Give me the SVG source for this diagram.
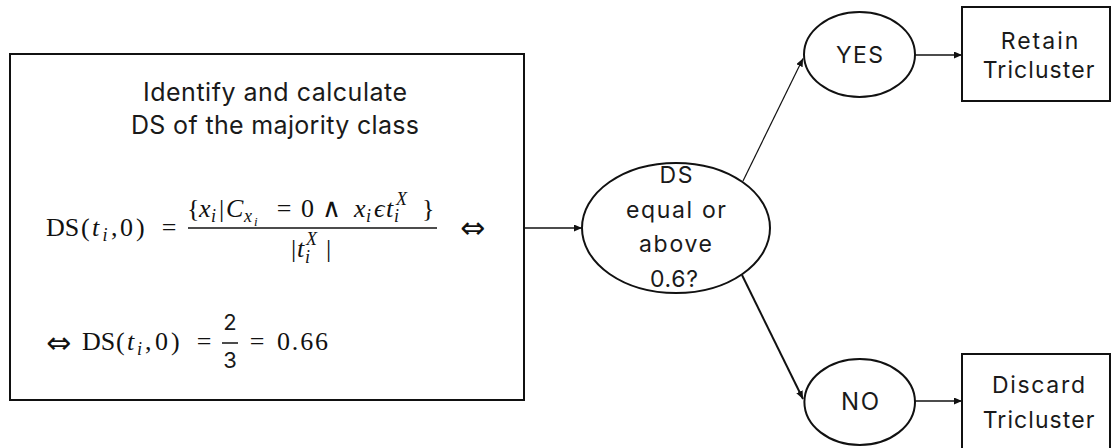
<svg xmlns="http://www.w3.org/2000/svg" width="1112" height="448" viewBox="0 0 1112 448">
<style>
.box{fill:#fff;stroke:#111;stroke-width:2}
.ell{fill:#fff;stroke:#111;stroke-width:2}
.t{font-family:Inter,"Open Sans","Liberation Sans",sans-serif;fill:#1a1a1a;text-anchor:middle}
.m{font-family:"Liberation Serif","DejaVu Serif",serif;font-size:26px;fill:#111}
.i{font-style:italic}
.s{font-size:18px}
.ss{font-size:13px}
.ar{font-family:"DejaVu Sans",sans-serif;font-size:30px;fill:#111}
.c{stroke:#111;fill:none}
</style>
<defs>
<marker id="ah" markerWidth="9" markerHeight="8" refX="8" refY="3.5" orient="auto" markerUnits="userSpaceOnUse">
<path d="M0,0 L8,3.5 L0,7 z" fill="#111"/>
</marker>
</defs>
<g id="connectors">
<line class="c" x1="524" y1="228" x2="582" y2="228" stroke-width="1.3" marker-end="url(#ah)"/>
<line class="c" x1="743" y1="181" x2="803" y2="58.5" stroke-width="1.2" marker-end="url(#ah)"/>
<line class="c" x1="742" y1="275" x2="803" y2="399" stroke-width="2" marker-end="url(#ah)"/>
<line class="c" x1="915" y1="55" x2="962" y2="55" stroke-width="1.5" marker-end="url(#ah)"/>
<line class="c" x1="915" y1="401" x2="962" y2="401" stroke-width="1.5" marker-end="url(#ah)"/>
</g>
<g id="calc-box">
<rect class="box" x="10" y="54" width="514" height="346"/>
<text class="t" x="275" y="100.5" font-size="25" textLength="264" lengthAdjust="spacing">Identify and calculate</text>
<text class="t" x="275" y="134" font-size="25" textLength="288" lengthAdjust="spacing">DS of the majority class</text>
<g id="formula1">
<text class="m" y="236"><tspan x="46">DS</tspan><tspan x="81">(</tspan><tspan x="92" class="i">t</tspan></text>
<text class="m i s" x="102.5" y="241">i</text>
<text class="m" y="236"><tspan x="111">,</tspan><tspan x="120">0</tspan><tspan x="136">)</tspan></text>
<text class="m" x="169" y="236" text-anchor="middle">=</text>
<line x1="188" y1="228" x2="437" y2="228" stroke="#111" stroke-width="1.5"/>
<text class="m" y="217"><tspan x="187">{</tspan><tspan x="199" class="i">x</tspan></text>
<text class="m i s" x="211" y="222">i</text>
<text class="m" x="219" y="217">|</text>
<text class="m i" x="226" y="217">C</text>
<text class="m i s" x="244" y="222">x</text>
<text class="m i ss" x="254" y="226">i</text>
<text class="m" x="284" y="217" text-anchor="middle">=</text>
<text class="m" x="301" y="217">0</text>
<text class="m" x="322" y="217" font-family="DejaVu Serif" font-size="22">∧</text>
<text class="m i" x="354" y="217">x</text>
<text class="m i s" x="366" y="222">i</text>
<text class="m i" x="374" y="217">ϵ</text>
<text class="m i" x="386" y="217">t</text>
<text class="m i s" x="394" y="222">i</text>
<text class="m i s" x="396" y="205">X</text>
<text class="m" x="422" y="217">}</text>
<text class="m" x="291" y="257">|</text>
<text class="m i" x="297" y="257">t</text>
<text class="m i s" x="305" y="263">i</text>
<text class="m i s" x="306" y="245">X</text>
<text class="m" x="326" y="257">|</text>
<text class="ar" x="460" y="237.5">⇔</text>
</g>
<g id="formula2">
<text class="ar" x="46" y="352.5">⇔</text>
<text class="m" y="350"><tspan x="82">DS</tspan><tspan x="116">(</tspan><tspan x="127" class="i">t</tspan></text>
<text class="m i s" x="137" y="355">i</text>
<text class="m" y="350"><tspan x="145">,</tspan><tspan x="155">0</tspan><tspan x="171">)</tspan></text>
<text class="m" x="204" y="350" text-anchor="middle">=</text>
<text class="t" x="230" y="330" font-size="22">2</text>
<line x1="222" y1="343" x2="238" y2="343" stroke="#111" stroke-width="1.5"/>
<text class="t" x="230" y="368" font-size="22">3</text>
<text class="m" x="257" y="350" text-anchor="middle">=</text>
<text class="m" x="277" y="350" textLength="51" lengthAdjust="spacing">0.66</text>
</g>
</g>
<g id="decision">
<ellipse class="ell" cx="676" cy="228" rx="94" ry="65"/>
<text class="t" x="676" y="183" font-size="23" textLength="33" lengthAdjust="spacing">DS</text>
<text class="t" x="676" y="218" font-size="23" textLength="100" lengthAdjust="spacing">equal or</text>
<text class="t" x="675.5" y="252" font-size="23" textLength="73" lengthAdjust="spacing">above</text>
<text class="t" x="674" y="287" font-size="23" textLength="48" lengthAdjust="spacing">0.6?</text>
</g>
<g id="yes">
<ellipse class="ell" cx="859.5" cy="54.5" rx="55.5" ry="42.5"/>
<text class="t" x="859.5" y="62.7" font-size="23" textLength="47" lengthAdjust="spacing">YES</text>
</g>
<g id="no">
<ellipse class="ell" cx="859.7" cy="402" rx="55.3" ry="43"/>
<text class="t" x="860" y="410" font-size="24" textLength="38" lengthAdjust="spacing">NO</text>
</g>
<g id="retain">
<rect class="box" x="962" y="7" width="148" height="94"/>
<text class="t" x="1039.5" y="49" font-size="23" textLength="77.6" lengthAdjust="spacing">Retain</text>
<text class="t" x="1038.5" y="78.3" font-size="23" textLength="111.6" lengthAdjust="spacing">Tricluster</text>
</g>
<g id="discard">
<rect class="box" x="962" y="354" width="148" height="110"/>
<text class="t" x="1038.5" y="392.7" font-size="23" textLength="93" lengthAdjust="spacing">Discard</text>
<text class="t" x="1038.5" y="427.7" font-size="23" textLength="111.6" lengthAdjust="spacing">Tricluster</text>
</g>
</svg>
